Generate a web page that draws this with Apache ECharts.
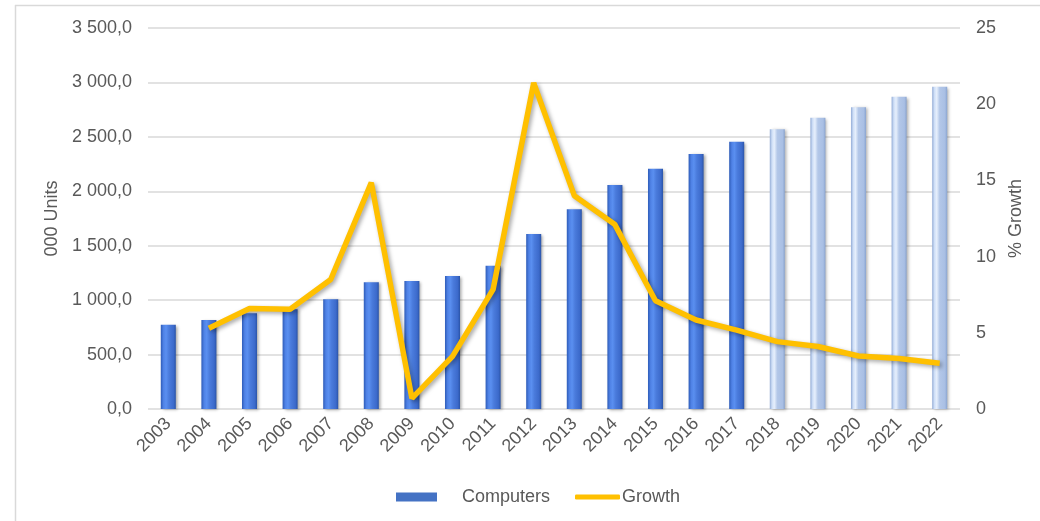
<!DOCTYPE html>
<html>
<head>
<meta charset="utf-8">
<script src="https://cdn.jsdelivr.net/npm/echarts@6/dist/echarts.min.js"></script>
<style>html,body{margin:0;padding:0;background:#fff}#c{width:1040px;height:521px}</style>
</head>
<body>
<div id="c"></div>
<script>
var years = ['2003','2004','2005','2006','2007','2008','2009','2010','2011','2012','2013','2014','2015','2016','2017','2018','2019','2020','2021','2022'];
var computers = [775, 818, 879, 916, 1008, 1164, 1176, 1222, 1317, 1608, 1836, 2057, 2208, 2342, 2456, 2569, 2676, 2771, 2869, 2961];
var growth = [null, 5.3, 6.6, 6.55, 8.5, 14.85, 0.7, 3.45, 7.85, 21.4, 14.0, 12.1, 7.1, 5.84, 5.18, 4.42, 4.1, 3.48, 3.32, 3.0];
var forecastFrom = '2018';
var leftTicks = [0, 500, 1000, 1500, 2000, 2500, 3000, 3500];
var rightTicks = [0, 5, 10, 15, 20, 25];

var actualStyle = {
  color: {type:'linear', x:0, y:0, x2:1, y2:0, colorStops:[
    {offset:0, color:'#2e5cb8'},{offset:0.18, color:'#4f82e6'},{offset:0.35, color:'#5a8ff0'},
    {offset:0.55, color:'#4a7bdc'},{offset:0.85, color:'#3c6acb'},{offset:1, color:'#2a54a8'}]},
  shadowColor:'rgba(0,0,0,0.35)', shadowBlur:3, shadowOffsetX:2, shadowOffsetY:1
};
var forecastStyle = {
  color: {type:'linear', x:0, y:0, x2:1, y2:0, colorStops:[
    {offset:0, color:'#93acd6'},{offset:0.15, color:'#cfdff7'},{offset:0.3, color:'#e6effc'},
    {offset:0.5, color:'#b3c7e8'},{offset:0.85, color:'#a9bfe4'},{offset:1, color:'#8aa4cf'}]},
  shadowColor:'rgba(0,0,0,0.3)', shadowBlur:3, shadowOffsetX:2, shadowOffsetY:1
};
var fIdx = years.indexOf(forecastFrom);
var barData = computers.map(function(v, i){
  return {value: v, itemStyle: i >= fIdx ? forecastStyle : actualStyle};
});

function fmt(v){
  var s = Math.round(v).toString().replace(/\B(?=(\d{3})+(?!\d))/g, ' ');
  return s + ',0';
}

var chart = echarts.init(document.getElementById('c'));
var font = 'Liberation Sans, Arial, sans-serif';
var fs = 18;
chart.setOption({
  animation: false,
  textStyle: {fontFamily: font},
  graphic: [
    {type:'line', shape:{x1:15.5, y1:5, x2:15.5, y2:521}, style:{stroke:'#d9d9d9', lineWidth:1.5}, silent:true},
    {type:'line', shape:{x1:15, y1:5.5, x2:1040, y2:5.5}, style:{stroke:'#d9d9d9', lineWidth:1.5}, silent:true}
  ],
  grid: {left:148, right:80, top:28, bottom:112},
  legend: [
    {left:391, top:483, itemWidth:41, itemHeight:9, icon:'rect', data:['Computers'],
     textStyle:{color:'#595959', fontSize:fs, fontFamily:font, padding:[0,0,0,20]}},
    {left:570, top:483, itemWidth:45, itemHeight:5, icon:'roundRect', data:['Growth'],
     textStyle:{color:'#595959', fontSize:fs, fontFamily:font, padding:[0,0,0,-3]}}
  ],
  xAxis: {
    type:'category', data: years,
    axisLine:{show:false}, axisTick:{show:false},
    axisLabel:{rotate:45, color:'#595959', fontSize:fs, margin:12, interval:0}
  },
  yAxis: [
    {type:'value', min:leftTicks[0], max:leftTicks[leftTicks.length-1], interval:leftTicks[1]-leftTicks[0],
     name:'000 Units', nameLocation:'middle', nameRotate:90, nameGap:85,
     nameTextStyle:{color:'#595959', fontSize:fs},
     axisLine:{show:false}, axisTick:{show:false},
     axisLabel:{color:'#595959', fontSize:fs, margin:16, formatter: fmt},
     splitLine:{lineStyle:{color:'#d9d9d9', width:1.5}}},
    {type:'value', min:rightTicks[0], max:rightTicks[rightTicks.length-1], interval:rightTicks[1]-rightTicks[0],
     name:'% Growth', nameLocation:'middle', nameRotate:90, nameGap:46,
     nameTextStyle:{color:'#595959', fontSize:fs},
     axisLine:{show:false}, axisTick:{show:false},
     axisLabel:{color:'#595959', fontSize:fs, margin:16},
     splitLine:{show:false}}
  ],
  series: [
    {name:'Computers', type:'bar', data: barData, barWidth:'37%', yAxisIndex:0,
     itemStyle: {color:'#4472c4'}},
    {name:'Growth', type:'line', data: growth, yAxisIndex:1, symbol:'none', z:5,
     lineStyle:{color:'#ffc000', width:5.5, shadowColor:'rgba(0,0,0,0.35)', shadowBlur:4, shadowOffsetX:2, shadowOffsetY:2},
     itemStyle:{color:'#ffc000'}}
  ]
});
</script>
</body>
</html>
